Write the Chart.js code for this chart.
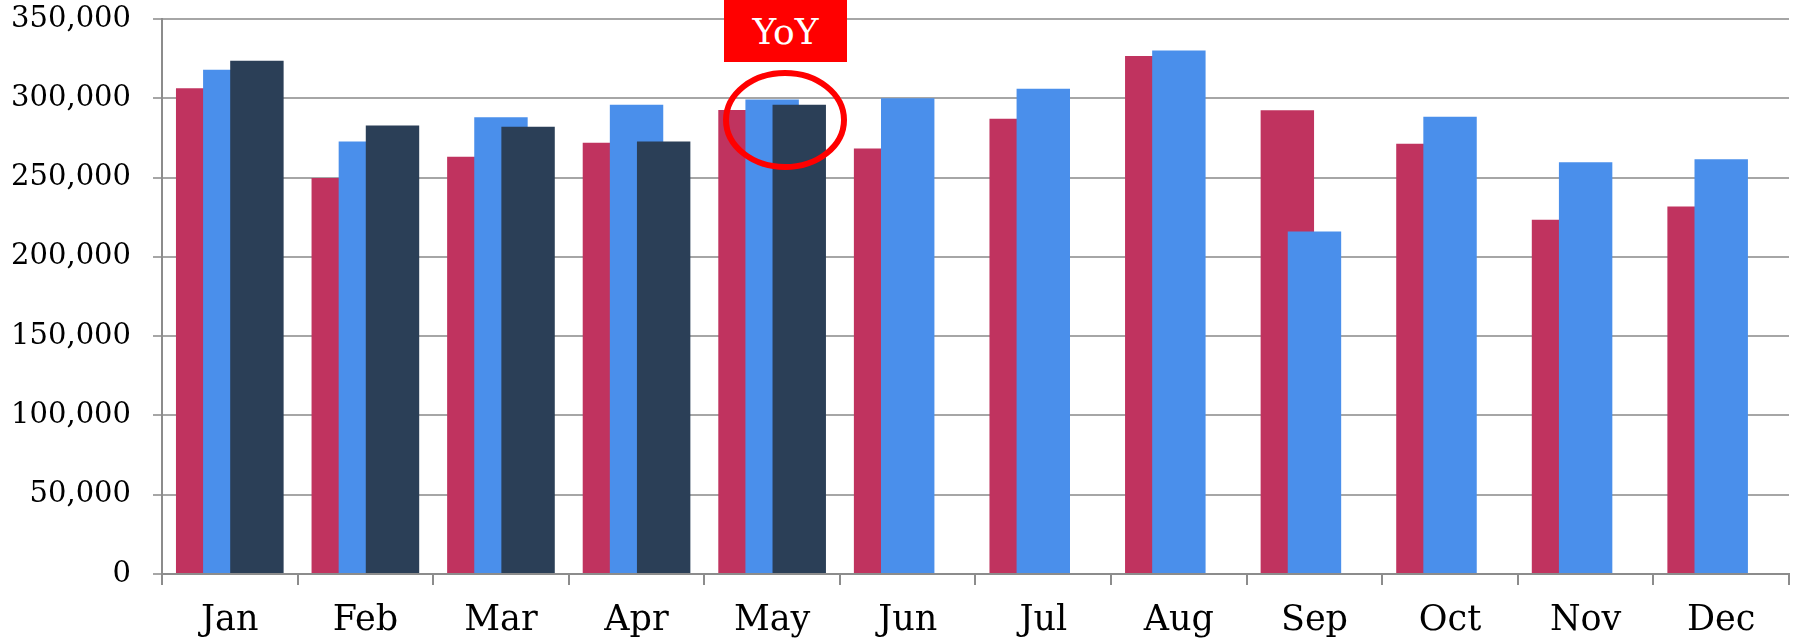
<!DOCTYPE html>
<html>
<head>
<meta charset="utf-8">
<script src="https://cdn.jsdelivr.net/npm/chart.js@4"></script>
<style>
  html, body { margin: 0; padding: 0; background: #ffffff; }
  #wrap { position: relative; width: 1799px; height: 640px; }
  #yoy {
    position: absolute; left: 724px; top: 0px; width: 123px; height: 62px;
    background: #ff0000; color: #ffffff;
    font-family: "DejaVu Serif", serif; font-size: 36px;
    display: flex; align-items: center; justify-content: center;
  }
  #ring { position: absolute; left: 0; top: 0; pointer-events: none; }
</style>
</head>
<body>
<div id="wrap">
  <canvas id="c" width="1799" height="640"></canvas>
  <div id="yoy">YoY</div>
  <svg id="ring" width="1799" height="640">
    <ellipse cx="785" cy="120" rx="59" ry="47" fill="none" stroke="#ff0000" stroke-width="6"/>
  </svg>
</div>
<script>
const categories = ["Jan","Feb","Mar","Apr","May","Jun","Jul","Aug","Sep","Oct","Nov","Dec"];
const seriesA = [306400, 249700, 263200, 272000, 292600, 268400, 287100, 326600, 292400, 271400, 223400, 231800];
const seriesB = [318000, 272800, 288100, 296000, 299300, 300100, 306000, 330200, 216000, 288400, 259600, 261500];
const seriesC = [323700, 282900, 282100, 272800, 296000, null, null, null, null, null, null, null];
const seriesNames = ["Series A", "Series B", "Series C"];
const yTicks = { min: 0, max: 350000, step: 50000 };

const colors = ["#c0335f", "#4a8feb", "#2b3f57"];

// draw datasets first-to-last so the right-hand (later) bars sit on top
const drawInIndexOrder = {
  id: "drawInIndexOrder",
  beforeDatasetsDraw(chart) {
    const metas = chart.getSortedVisibleDatasetMetas();
    for (const m of metas) m.controller.draw();
    return false;
  }
};

new Chart(document.getElementById("c"), {
  type: "bar",
  data: {
    labels: categories,
    datasets: [seriesA, seriesB, seriesC].map((d, i) => ({
      label: seriesNames[i],
      data: d,
      backgroundColor: colors[i],
      borderWidth: 0,
      categoryPercentage: 0.6,
      barPercentage: 1.97
    }))
  },
  plugins: [drawInIndexOrder],
  options: {
    responsive: false,
    animation: false,
    layout: { padding: { top: 19, right: 10, left: 0, bottom: 0 } },
    plugins: { legend: { display: false }, tooltip: { enabled: false } },
    scales: {
      x: {
        offset: true,
        grid: {
          offset: true,
          drawOnChartArea: false,
          drawTicks: true,
          tickLength: 11,
          color: "#8c8c8c",
          lineWidth: 2
        },
        border: { color: "#8c8c8c", width: 2 },
        ticks: {
          color: "#000000",
          padding: 15,
          font: { family: "DejaVu Serif", size: 35 }
        },
        afterFit: (s) => { s.height = 66; }
      },
      y: {
        min: yTicks.min,
        max: yTicks.max,
        ticks: {
          stepSize: yTicks.step,
          color: "#000000",
          padding: 22,
          font: { family: "DejaVu Serif", size: 29 },
          callback: (v) => v.toLocaleString("en-US")
        },
        grid: { color: "#a6a6a6", lineWidth: 2, tickLength: 9 },
        border: { color: "#8c8c8c", width: 2 },
        afterFit: (s) => { s.width = 162; s.paddingTop = 0; s.paddingBottom = 0; }
      }
    }
  }
});
</script>
</body>
</html>
